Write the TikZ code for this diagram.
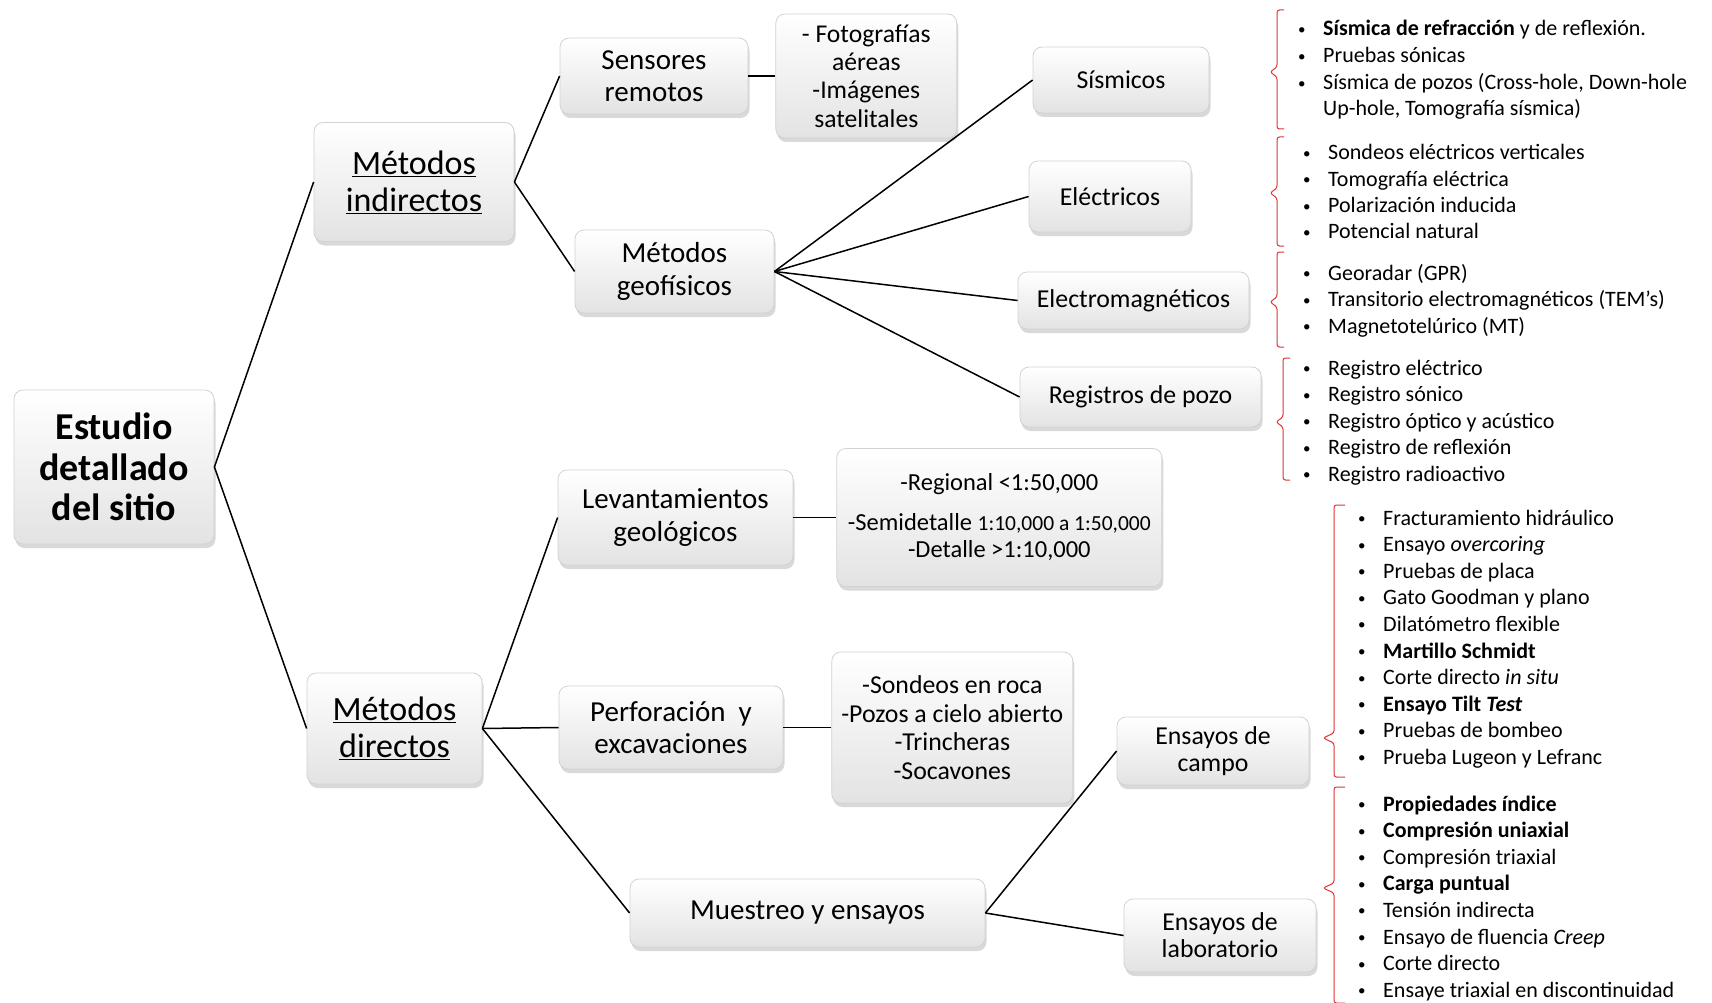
\documentclass[tikz,border=0pt]{standalone}
\usepackage{fontspec}
\setmainfont{Carlito}
\usetikzlibrary{positioning,shadows}

\definecolor{bracered}{RGB}{222,52,52}
\newcommand{\bul}{\makebox[25pt][l]{\raisebox{1.5pt}{\fontsize{15}{15}\selectfont\textbullet}}}

\begin{document}
\begin{tikzpicture}[x=1pt, y=-1pt, node distance=40pt]
    \tikzstyle{block} = [rectangle, draw=gray!35, line width=0.8pt, rounded corners=9pt, top color=white, bottom color=gray!22, drop shadow={shadow xshift=1.5pt, shadow yshift=-4pt, opacity=0.3}, align=center, inner sep=2pt]
    \tikzstyle{line} = [draw, line width=1.5pt]
    \tikzstyle{entry} = [anchor=west, inner sep=0pt, text height=21pt, text depth=5pt, font=\fontsize{22}{26}\selectfont]
    \tikzstyle{redbrace} = [draw=bracered, line width=1pt, rounded corners=2.5pt]

    \useasboundingbox (0,0) rectangle (1712,1003);

    \node[block, minimum width=200pt, minimum height=154pt, font=\fontsize{38}{40.5}\selectfont\bfseries] (study) at (114, 467) {Estudio\\detallado\\del sitio};
    \node[block, minimum width=200pt, minimum height=119pt, font=\fontsize{34}{37}\selectfont] (indirect) at (414, 182) {\underline{Métodos}\\\underline{indirectos}};
    \node[block, minimum width=175pt, minimum height=111pt, font=\fontsize{34}{37}\selectfont] (direct) at (394.5, 728.5) {\underline{Métodos}\\\underline{directos}};

    \node[block, minimum width=188pt, minimum height=76pt, font=\fontsize{29}{32}\selectfont] (remote) at (654, 76) {Sensores\\remotos};
    \node[block, right=27pt of remote, minimum width=181pt, minimum height=124pt, font=\fontsize{25.6}{28.4}\selectfont] (photos) {- Fotografías\\aéreas\\-Imágenes\\satelitales};
    \node[block, minimum width=199pt, minimum height=83pt, font=\fontsize{29}{32.5}\selectfont] (geophys) at (674.5, 271.5) {Métodos\\geofísicos};
    \node[block, minimum width=176pt, minimum height=66pt, font=\fontsize{25.8}{28}\selectfont] (seismic) at (1121, 80) {Sísmicos};
    \node[block, minimum width=162pt, minimum height=71pt, font=\fontsize{25.8}{28}\selectfont] (electric) at (1110, 196.5) {Eléctricos};
    \node[block, minimum width=231pt, minimum height=57pt, font=\fontsize{25.8}{28}\selectfont] (electromag) at (1133.5, 300.5) {Electromagnéticos};
    \node[block, minimum width=241pt, minimum height=60pt, font=\fontsize{25.8}{28}\selectfont] (welllogs) at (1140.5, 397) {Registros de pozo};

    \node[block, minimum width=235pt, minimum height=95pt, font=\fontsize{29}{32.5}\selectfont] (geosurvey) at (675.5, 517.5) {Levantamientos\\geológicos};
    \node[block, right=43pt of geosurvey, minimum width=325pt, minimum height=138pt, font=\fontsize{24.5}{27}\selectfont] (scales) {-Regional <1:50,000\\[13pt]-Semidetalle {\fontsize{21.5}{27}\selectfont 1:10,000 a 1:50,000}\\-Detalle >1:10,000};
    \node[block, minimum width=224pt, minimum height=83pt, font=\fontsize{29}{32}\selectfont] (drilling) at (671, 727.5) {Perforación~ y\\excavaciones};
    \node[block, right=48pt of drilling, minimum width=241pt, minimum height=151pt, font=\fontsize{25.8}{28.5}\selectfont] (pits) {-Sondeos en roca\\-Pozos a cielo abierto\\-Trincheras\\-Socavones};
    \node[block, minimum width=355pt, minimum height=68pt, font=\fontsize{29}{32}\selectfont] (sampling) at (807.5, 913) {Muestreo y ensayos};
    \node[block, minimum width=192pt, minimum height=68pt, font=\fontsize{25.8}{27}\selectfont] (fieldtests) at (1213, 751) {Ensayos de\\campo};
    \node[block, minimum width=192pt, minimum height=73pt, font=\fontsize{25.8}{27}\selectfont] (labtests) at (1220, 935.5) {Ensayos de\\laboratorio};

    \path[line] (study.east) -- (indirect.west);
    \path[line] (study.east) -- (direct.west);
    \path[line] (indirect.east) -- (remote.west);
    \path[line] (indirect.east) -- (geophys.west);
    \path[line] (remote) -- (photos);
    \path[line] (geophys.east) -- (seismic.west);
    \path[line] (geophys.east) -- (electric.west);
    \path[line] (geophys.east) -- (electromag.west);
    \path[line] (geophys.east) -- (welllogs.west);
    \path[line] (direct.east) -- (geosurvey.west);
    \path[line] (direct.east) -- (drilling.west);
    \path[line] (direct.east) -- (sampling.west);
    \path[line] (geosurvey) -- (scales);
    \path[line] (drilling) -- (pits);
    \path[line] (sampling.east) -- (fieldtests.west);
    \path[line] (sampling.east) -- (labtests.west);

    \foreach \x/\w/\ya/\yt/\yb in {1277/7/10/72/129, 1277/7/137/193/246, 1277/7/252/302/347, 1283/7/358/422/480, 1334/11/505/738/777, 1334/11/787/888/1003}
        \draw[redbrace] ({\x+\w}, \ya) -- (\x, \ya) -- (\x, {\yt-5}) -- ({\x-\w}, \yt) -- (\x, {\yt+5}) -- (\x, \yb) -- ({\x+\w}, \yb);

    \node[entry] (sis1) at (1298, 28) {\bul\textbf{Sísmica de refracción} y de reflexión.};
    \node[entry] (sis2) at (1298, 55) {\bul Pruebas sónicas};
    \node[entry] (sis3) at (1298, 82) {\bul Sísmica de pozos (Cross-hole, Down-hole};
    \node[entry] (sis4) at (1323, 108) {Up-hole, Tomografía sísmica)};

    \foreach \txt [count=\i] in {Sondeos eléctricos verticales, Tomografía eléctrica, Polarización inducida, Potencial natural}
        \node[entry] (elec\i) at (1303, {152+26.3*(\i-1)}) {\bul\txt};
    \foreach \txt [count=\i] in {Georadar (GPR), Transitorio electromagnéticos (TEM’s), Magnetotelúrico (MT)}
        \node[entry] (em\i) at (1303, {272+26.5*(\i-1)}) {\bul\txt};
    \foreach \txt [count=\i] in {Registro eléctrico, Registro sónico, Registro óptico y acústico, Registro de reflexión, Registro radioactivo}
        \node[entry] (log\i) at (1303, {367+26.5*(\i-1)}) {\bul\txt};
    \foreach \txt [count=\i] in {Fracturamiento hidráulico, Ensayo \textit{overcoring}, Pruebas de placa, Gato Goodman y plano, Dilatómetro flexible, \textbf{Martillo Schmidt}, Corte directo \textit{in situ}, \textbf{Ensayo Tilt \textit{Test}}, Pruebas de bombeo, Prueba Lugeon y Lefranc}
        \node[entry] (field\i) at (1358, {517+26.6*(\i-1)}) {\bul\txt};
    \foreach \txt [count=\i] in {\textbf{Propiedades índice}, \textbf{Compresión uniaxial}, Compresión triaxial, \textbf{Carga puntual}, Tensión indirecta, Ensayo de fluencia \textit{Creep}, Corte directo, Ensaye triaxial en discontinuidad}
        \node[entry] (lab\i) at (1358, {803+26.6*(\i-1)}) {\bul\txt};
\end{tikzpicture}
\end{document}
